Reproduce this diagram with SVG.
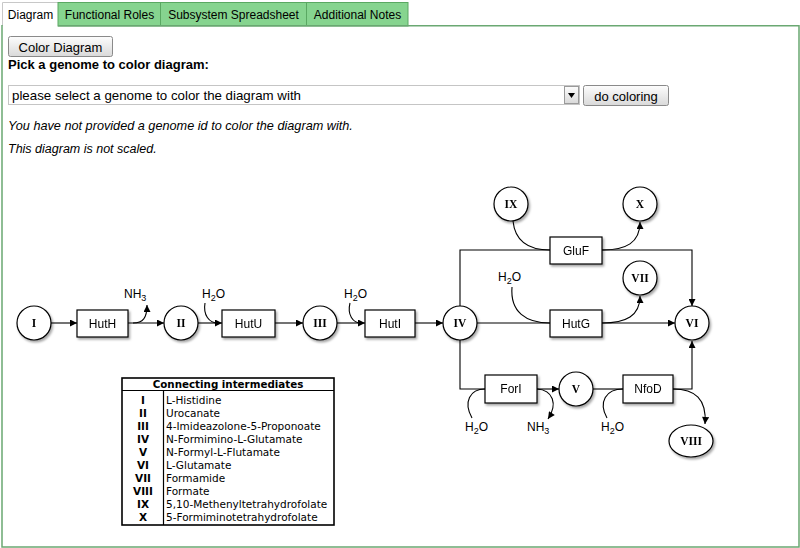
<svg xmlns="http://www.w3.org/2000/svg" width="800" height="548" viewBox="0 0 800 548">
<style>
.ui{font-family:"Liberation Sans",Arial,sans-serif;fill:#000}
.tab{font-size:12px;text-anchor:middle}
.btn{font-size:13px;text-anchor:middle}
.node circle,.node ellipse{fill:#fff;stroke:#000;stroke-width:1.2}
.box rect{fill:#fff;stroke:#000;stroke-width:1.2}
.rn{font-family:"Liberation Serif","Times New Roman",serif;font-weight:bold;font-size:11.5px;text-anchor:middle}
.bl{font-family:"Liberation Sans",Arial,sans-serif;font-size:12px;text-anchor:middle}
.chem{font-family:"Liberation Sans",Arial,sans-serif;font-size:12px}
.sub{font-size:9px}
.conn path{fill:none;stroke:#000;stroke-width:1.1}
.tbl{font-family:"DejaVu Sans",Verdana,sans-serif;font-size:10.5px}
.tbl .k{font-weight:bold;text-anchor:middle}
</style>
<defs>
<marker id="ah" viewBox="0 0 10 10" refX="10" refY="5" markerWidth="9" markerHeight="7" markerUnits="userSpaceOnUse" orient="auto"><path d="M0,0 L10,5 L0,10 z" fill="#000"/></marker>
<filter id="sh" x="-30%" y="-30%" width="170%" height="170%"><feDropShadow dx="1.5" dy="2" stdDeviation="1.3" flood-color="#000" flood-opacity="0.35"/></filter>
<linearGradient id="bg" x1="0" y1="0" x2="0" y2="1"><stop offset="0" stop-color="#fdfdfd"/><stop offset="1" stop-color="#d9d9d9"/></linearGradient>
</defs>
<rect width="800" height="548" fill="#fff"/>

<g id="tabs">
<path d="M2.5,26 V2.5 H58" fill="none" stroke="#c8c8c8"/>
<rect x="58" y="2.5" width="350" height="23.5" fill="#86d48f" stroke="#5aa862"/>
<line x1="160.5" y1="2.5" x2="160.5" y2="26" stroke="#5aa862"/>
<line x1="306.5" y1="2.5" x2="306.5" y2="26" stroke="#5aa862"/>
<text class="ui tab" x="30.5" y="19">Diagram</text>
<text class="ui tab" x="109.5" y="19">Functional Roles</text>
<text class="ui tab" x="233.5" y="19">Subsystem Spreadsheet</text>
<text class="ui tab" x="357.5" y="19">Additional Notes</text>
</g>
<g id="frame" fill="none" stroke="#6aa872" stroke-width="1.5">
<path d="M58,25.8 H799 V547 H2 V25"/>
</g>

<g id="controls">
<rect x="8.5" y="36.5" width="104" height="20" rx="2" fill="url(#bg)" stroke="#8a8a8a"/>
<text class="ui btn" x="60.5" y="51.5">Color Diagram</text>
<text class="ui" x="8" y="69" font-size="13" font-weight="bold">Pick a genome to color diagram:</text>
<rect x="8.5" y="85.5" width="571" height="19" fill="#fff" stroke="#8a8a8a" stroke-dasharray="1 1"/>
<rect x="564.5" y="86.5" width="14" height="17" fill="url(#bg)" stroke="#9a9a9a"/>
<path d="M568,93 H575 L571.5,98 z" fill="#000"/>
<text class="ui" x="12" y="100" font-size="13.3">please select a genome to color the diagram with</text>
<rect x="583.5" y="85.5" width="85" height="20" rx="2" fill="url(#bg)" stroke="#8a8a8a"/>
<text class="ui btn" x="626" y="100.5" font-size="13.5">do coloring</text>
<text class="ui" x="8" y="130" font-size="12.7" font-style="italic">You have not provided a genome id to color the diagram with.</text>
<text class="ui" x="8" y="153" font-size="12.5" font-style="italic">This diagram is not scaled.</text>
</g>

<g class="conn" id="connectors">
<path d="M51,323 H77" marker-end="url(#ah)"/>
<path d="M128,323 H164" marker-end="url(#ah)"/>
<path d="M133,323 C143,323 147,318 147,305" marker-end="url(#ah)"/>
<path d="M198,323 H222" marker-end="url(#ah)"/>
<path d="M205,303 C203,315 209,323 218,323"/>
<path d="M275,323 H303" marker-end="url(#ah)"/>
<path d="M337,323 H365" marker-end="url(#ah)"/>
<path d="M350,303 C347,315 353,323 361,323"/>
<path d="M415,323 H443" marker-end="url(#ah)"/>
<path d="M477,323 H675" marker-end="url(#ah)"/>
<path d="M512,287 C510,312 526,323 550,323"/>
<path d="M602,323 C626,323 640,316 640,296" marker-end="url(#ah)"/>
<path d="M460,306 V250 H550"/>
<path d="M602,250 H692 V306" marker-end="url(#ah)"/>
<path d="M513,221 C515,241 528,250 550,250"/>
<path d="M602,250 C626,250 640,243 640,222" marker-end="url(#ah)"/>
<path d="M460,340 V389 H485"/>
<path d="M537,389 H559" marker-end="url(#ah)"/>
<path d="M472,418 C463,402 470,389 485,389"/>
<path d="M537,389 C553,390 558,404 548,419" marker-end="url(#ah)"/>
<path d="M593,389 H623"/>
<path d="M607,418 C598,402 606,389 623,389"/>
<path d="M673,389 H692 V341" marker-end="url(#ah)"/>
<path d="M673,389 C695,389 707,399 705,424" marker-end="url(#ah)"/>
</g>

<g id="chem">
<text class="chem" x="124" y="298">NH<tspan class="sub" dy="3">3</tspan></text>
<text class="chem" x="202" y="298">H<tspan class="sub" dy="3">2</tspan><tspan dy="-3">O</tspan></text>
<text class="chem" x="344" y="298">H<tspan class="sub" dy="3">2</tspan><tspan dy="-3">O</tspan></text>
<text class="chem" x="498" y="281">H<tspan class="sub" dy="3">2</tspan><tspan dy="-3">O</tspan></text>
<text class="chem" x="465" y="431">H<tspan class="sub" dy="3">2</tspan><tspan dy="-3">O</tspan></text>
<text class="chem" x="527" y="431">NH<tspan class="sub" dy="3">3</tspan></text>
<text class="chem" x="601" y="431">H<tspan class="sub" dy="3">2</tspan><tspan dy="-3">O</tspan></text>
</g>

<g id="I" class="node" filter="url(#sh)"><circle cx="34" cy="323" r="17"/><text class="rn" x="34" y="327">I</text></g>
<g id="II" class="node" filter="url(#sh)"><circle cx="181" cy="323" r="17"/><text class="rn" x="181" y="327">II</text></g>
<g id="III" class="node" filter="url(#sh)"><circle cx="320" cy="323" r="17"/><text class="rn" x="320" y="327">III</text></g>
<g id="IV" class="node" filter="url(#sh)"><circle cx="460" cy="323" r="17"/><text class="rn" x="460" y="327">IV</text></g>
<g id="V" class="node" filter="url(#sh)"><circle cx="576" cy="389" r="17"/><text class="rn" x="576" y="393">V</text></g>
<g id="VI" class="node" filter="url(#sh)"><circle cx="692" cy="323" r="17"/><text class="rn" x="692" y="327">VI</text></g>
<g id="VII" class="node" filter="url(#sh)"><circle cx="640" cy="278" r="17"/><text class="rn" x="640" y="282">VII</text></g>
<g id="VIII" class="node" filter="url(#sh)"><ellipse cx="691" cy="441" rx="22" ry="16"/><text class="rn" x="691" y="445">VIII</text></g>
<g id="IX" class="node" filter="url(#sh)"><circle cx="511" cy="204" r="17"/><text class="rn" x="511" y="208">IX</text></g>
<g id="X" class="node" filter="url(#sh)"><circle cx="640" cy="204" r="17"/><text class="rn" x="640" y="208">X</text></g>

<g id="HutH" class="box" filter="url(#sh)"><rect x="77" y="310" width="51" height="27"/><text class="bl" x="102.5" y="328">HutH</text></g>
<g id="HutU" class="box" filter="url(#sh)"><rect x="222" y="310" width="53" height="27"/><text class="bl" x="248.5" y="328">HutU</text></g>
<g id="HutI" class="box" filter="url(#sh)"><rect x="365" y="310" width="50" height="27"/><text class="bl" x="390" y="328">HutI</text></g>
<g id="HutG" class="box" filter="url(#sh)"><rect x="550" y="310" width="52" height="27"/><text class="bl" x="576" y="328">HutG</text></g>
<g id="GluF" class="box" filter="url(#sh)"><rect x="550" y="237" width="52" height="27"/><text class="bl" x="576" y="255">GluF</text></g>
<g id="ForI" class="box" filter="url(#sh)"><rect x="485" y="375" width="52" height="28"/><text class="bl" x="511" y="393">ForI</text></g>
<g id="NfoD" class="box" filter="url(#sh)"><rect x="623" y="375" width="50" height="28"/><text class="bl" x="648" y="393">NfoD</text></g>

<g id="legend" class="tbl">
<rect x="122" y="378" width="212" height="147" fill="#fff" stroke="#000" stroke-width="1.6"/>
<line x1="122" y1="390.5" x2="334" y2="390.5" stroke="#000" stroke-width="1.2"/>
<line x1="163.5" y1="390.5" x2="163.5" y2="525" stroke="#000" stroke-width="1.2"/>
<text x="228" y="388" font-weight="bold" font-size="10.3" text-anchor="middle">Connecting intermediates</text>
<text class="k" x="143" y="403.5">I</text><text x="166" y="403.5">L-Histidine</text>
<text class="k" x="143" y="416.5">II</text><text x="166" y="416.5">Urocanate</text>
<text class="k" x="143" y="429.5">III</text><text x="166" y="429.5">4-Imideazolone-5-Proponoate</text>
<text class="k" x="143" y="442.5">IV</text><text x="166" y="442.5">N-Formimino-L-Glutamate</text>
<text class="k" x="143" y="455.5">V</text><text x="166" y="455.5">N-Formyl-L-Flutamate</text>
<text class="k" x="143" y="468.5">VI</text><text x="166" y="468.5">L-Glutamate</text>
<text class="k" x="143" y="481.5">VII</text><text x="166" y="481.5">Formamide</text>
<text class="k" x="143" y="494.5">VIII</text><text x="166" y="494.5">Formate</text>
<text class="k" x="143" y="507.5">IX</text><text x="166" y="507.5">5,10-Methenyltetrahydrofolate</text>
<text class="k" x="143" y="520.5">X</text><text x="166" y="520.5">5-Formiminotetrahydrofolate</text>
</g>
</svg>
